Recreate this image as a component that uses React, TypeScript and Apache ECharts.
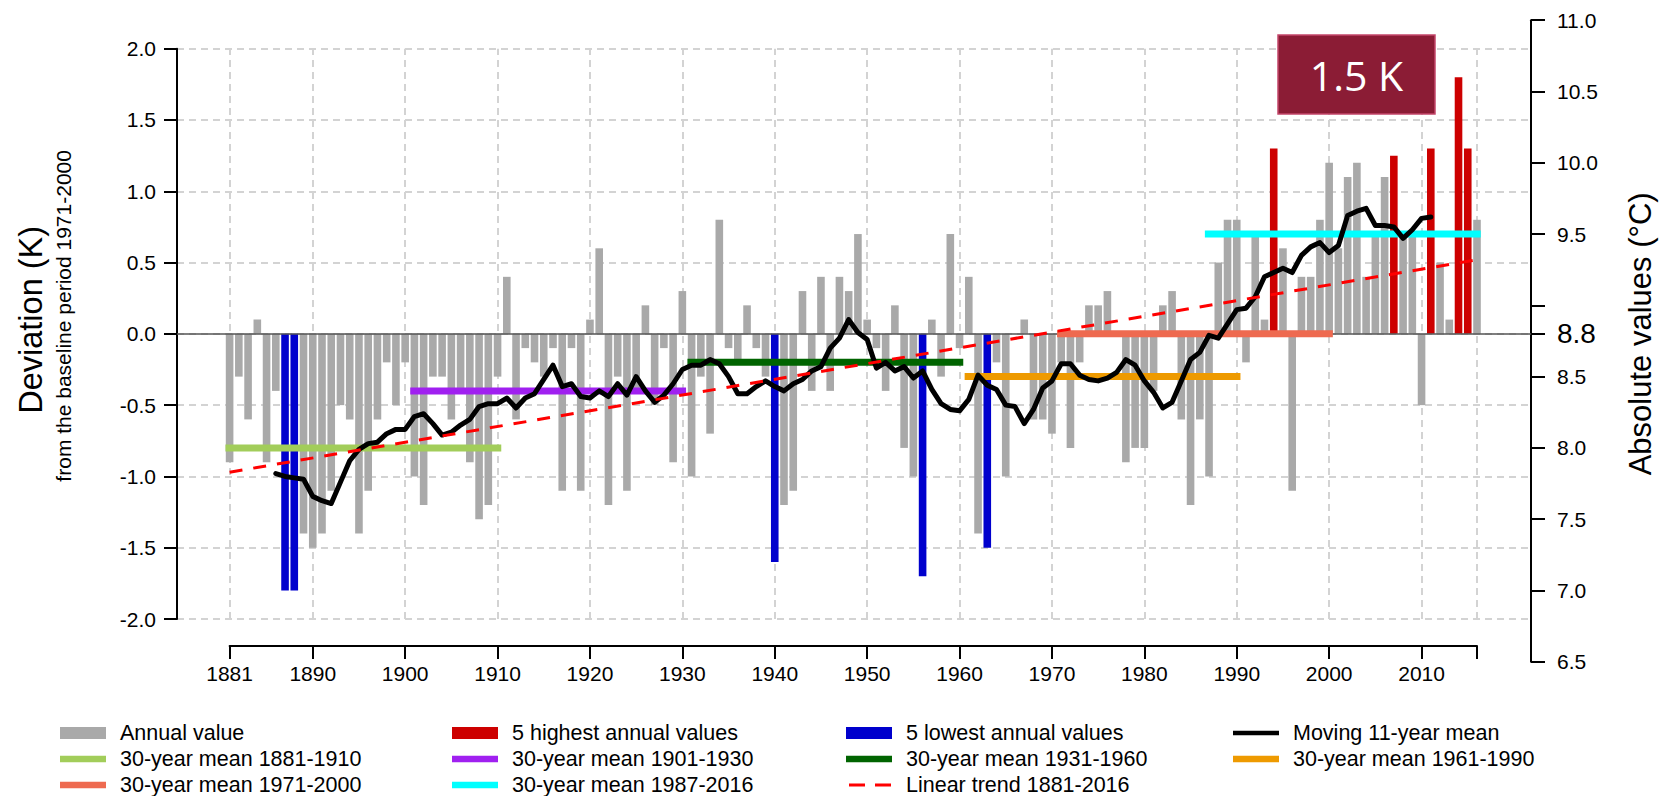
import React, { useEffect, useRef } from 'react';
import * as echarts from 'echarts';

// ---------------- data ----------------
const firstYear = 1881;
const annualValues = [
  -0.9, -0.3, -0.6, 0.1, -0.9, -0.4, -1.8, -1.8, -1.4, -1.5,
  -1.4, -1.1, -0.5, -0.6, -1.4, -1.1, -0.6, -0.2, -0.5, -0.2,
  -1.0, -1.2, -0.3, -0.3, -0.6, -0.4, -0.9, -1.3, -1.2, -0.3,
  0.4, -0.6, -0.1, -0.2, -0.3, -0.1, -1.1, -0.1, -1.1, 0.1,
  0.6, -1.2, -0.3, -1.1, -0.4, 0.2, -0.5, -0.1, -0.9, 0.3,
  -1.0, -0.3, -0.7, 0.8, -0.1, -0.2, 0.2, -0.1, -0.3, -1.6,
  -1.2, -1.1, 0.3, -0.4, 0.4, -0.4, 0.4, 0.3, 0.7, 0.1,
  -0.1, -0.4, 0.2, -0.8, -1.0, -1.7, 0.1, -0.3, 0.7, -0.1,
  0.4, -1.4, -1.5, -0.2, -1.0, 0.0, 0.1, -0.6, -0.6, -0.7,
  -0.2, -0.8, -0.2, 0.2, 0.2, 0.3, 0.0, -0.9, -0.8, -0.8,
  -0.4, 0.2, 0.3, -0.6, -1.2, -0.6, -1.0, 0.5, 0.8, 0.8,
  -0.2, 0.7, 0.1, 1.3, 0.6, -1.1, 0.4, 0.4, 0.8, 1.2,
  0.6, 1.1, 1.2, 0.4, 0.7, 1.1, 1.25, 0.7, 0.7, -0.5,
  1.3, 0.5, 0.1, 1.8, 1.3, 0.8,
];
const highestYears = [1994, 2007, 2011, 2014, 2015];
const lowestYears = [1887, 1888, 1940, 1956, 1963];

const movingMeanFirstYear = 1886;
const movingMean = [
  -0.98, -1.0, -1.01, -1.02, -1.14, -1.17, -1.19, -1.04, -0.89, -0.81,
  -0.77, -0.76, -0.7, -0.67, -0.67, -0.58, -0.56, -0.63, -0.71, -0.69,
  -0.64, -0.6, -0.51, -0.49, -0.49, -0.45, -0.52, -0.45, -0.42, -0.32,
  -0.22, -0.37, -0.35, -0.44, -0.45, -0.4, -0.44, -0.35, -0.43, -0.3,
  -0.4, -0.48, -0.43, -0.35, -0.25, -0.22, -0.22, -0.18, -0.21, -0.3,
  -0.42, -0.42, -0.37, -0.33, -0.37, -0.4, -0.35, -0.32, -0.26, -0.23,
  -0.1, -0.03, 0.1, 0.01, -0.04, -0.24, -0.2, -0.26, -0.23, -0.31,
  -0.26, -0.39, -0.49, -0.53, -0.54, -0.46, -0.29, -0.36, -0.39, -0.5,
  -0.51, -0.63, -0.53, -0.38, -0.33, -0.21, -0.21, -0.29, -0.32, -0.33,
  -0.31, -0.27, -0.18, -0.22, -0.33, -0.41, -0.52, -0.48, -0.33, -0.18,
  -0.13, -0.01, -0.03, 0.07, 0.17, 0.18, 0.26, 0.4, 0.43, 0.46,
  0.43, 0.55, 0.61, 0.64, 0.57, 0.62, 0.83, 0.86, 0.88, 0.76,
  0.76, 0.75, 0.67, 0.73, 0.81, 0.82,
];

const trendYears = [1881, 2016];
const trendValues = [-0.97, 0.52];

const periodLabels = ['1881-1910', '1901-1930', '1931-1960', '1961-1990', '1971-2000', '1987-2016'];
const periodStarts = [1881, 1901, 1931, 1961, 1971, 1987];
const periodEnds = [1910, 1930, 1960, 1990, 2000, 2016];
const periodMeans = [-0.8, -0.4, -0.2, -0.3, 0.0, 0.7];

const xTickYears = [1881, 1890, 1900, 1910, 1920, 1930, 1940, 1950, 1960, 1970, 1980, 1990, 2000, 2010, 2016];
const xLabelYears = [1881, 1890, 1900, 1910, 1920, 1930, 1940, 1950, 1960, 1970, 1980, 1990, 2000, 2010];
const rightTickValues = [6.5, 7.0, 7.5, 8.0, 8.5, 8.8, 9.0, 9.5, 10.0, 10.5, 11.0];
const rightLabelValues = [6.5, 7.0, 7.5, 8.0, 8.5, 8.8, 9.5, 10.0, 10.5, 11.0];
const baselineAbsolute = 8.8;
const warmingLabel = '1.5 K';

// ---------------- styles / layout ----------------
const FONT = '"Liberation Sans", Arial, Helvetica, sans-serif';
const GREY = '#a9a9a9';
const RED = '#cd0000';
const BLUE = '#0000cd';
const periodColors = ['#a2cd5a', '#a020f0', '#006400', '#ee9a00', '#ee6a50', '#00ffff'];
const GRID_COLOR = '#d3d3d3';

const W = 1659;
const H = 796;
const AX_LEFT = 177;
const AX_RIGHT = 1531;
const PLOT_TOP = 48.7;
const PLOT_BOTTOM = 619;
const YEAR0_X = 229.6;
const PX_PER_YEAR = 9.24;
const X_AXIS_Y = 646;
const DEV_MIN = -2;
const DEV_MAX = 2;
const ABS_MIN = 6.5;
const ABS_MAX = 11.0;

const pxPerK = (PLOT_BOTTOM - PLOT_TOP) / (DEV_MAX - DEV_MIN);
const zeroY = PLOT_BOTTOM - (0 - DEV_MIN) * pxPerK;
const rightTop = zeroY - (ABS_MAX - baselineAbsolute) * pxPerK;
const rightBottom = zeroY + (baselineAbsolute - ABS_MIN) * pxPerK;
const xMin = firstYear - (YEAR0_X - AX_LEFT) / PX_PER_YEAR;
const xMax = xMin + (AX_RIGHT - AX_LEFT) / PX_PER_YEAR;
const lastYear = firstYear + annualValues.length - 1;
const xEndPx = YEAR0_X + (lastYear - firstYear) * PX_PER_YEAR;

const years = annualValues.map((_, i) => firstYear + i);
const highSet = new Set(highestYears);
const lowSet = new Set(lowestYears);

const greyData = years.filter((y) => !highSet.has(y) && !lowSet.has(y)).map((y) => [y, annualValues[y - firstYear]]);
const redData = highestYears.map((y) => [y, annualValues[y - firstYear]]);
const blueData = lowestYears.map((y) => [y, annualValues[y - firstYear]]);
const maData = movingMean.map((v, i) => [movingMeanFirstYear + i, v]);
const trendData = trendYears.map((y, i) => [y, trendValues[i]]);

const BAR_W = 7.6;

const barBase = {
  type: 'bar',
  xAxisIndex: 0,
  yAxisIndex: 0,
  barWidth: BAR_W,
  barGap: '-100%',
  silent: true,
  z: 2,
};

const periodSeries = periodStarts.map((s, i) => ({
  name: `30-year mean ${periodLabels[i]}`,
  type: 'line',
  xAxisIndex: 0,
  yAxisIndex: 0,
  data: [
    [s - 0.45, periodMeans[i]],
    [periodEnds[i] + 0.4, periodMeans[i]],
  ],
  symbol: 'none',
  silent: true,
  lineStyle: { color: periodColors[i], width: 7, cap: 'butt' },
  z: 5,
}));

// legend drawn with graphic elements (R-style 4-column legend)
type Entry = { label: string; kind: 'box' | 'line' | 'dash'; color: string; width?: number };
const legendEntries: Entry[] = [
  { label: 'Annual value', kind: 'box', color: GREY },
  { label: '5 highest annual values', kind: 'box', color: RED },
  { label: '5 lowest annual values', kind: 'box', color: BLUE },
  { label: 'Moving 11-year mean', kind: 'line', color: '#000000', width: 4.5 },
  ...periodLabels.map((p, i) => ({ label: `30-year mean ${p}`, kind: 'line' as const, color: periodColors[i], width: 6.5 })),
  { label: 'Linear trend 1881-2016', kind: 'dash', color: '#ff0000', width: 3 },
];
const LEG_COL_X = [60, 452, 846, 1233];
const LEG_ROW_Y = [733, 759, 785];
const SW_W = 46;

const legendGraphics: any[] = [];
legendEntries.forEach((e, i) => {
  const cx = LEG_COL_X[i % 4];
  const cy = LEG_ROW_Y[Math.floor(i / 4)];
  if (e.kind === 'box') {
    legendGraphics.push({ type: 'rect', shape: { x: cx, y: cy - 6, width: SW_W, height: 12 }, style: { fill: e.color }, z: 10, silent: true });
  } else if (e.kind === 'line') {
    legendGraphics.push({ type: 'line', shape: { x1: cx, y1: cy, x2: cx + SW_W, y2: cy }, style: { stroke: e.color, lineWidth: e.width }, z: 10, silent: true });
  } else {
    legendGraphics.push({ type: 'line', shape: { x1: cx + 3, y1: cy, x2: cx + 45, y2: cy }, style: { stroke: e.color, lineWidth: e.width, lineDash: [16, 10] }, z: 10, silent: true });
  }
  legendGraphics.push({
    type: 'text',
    x: cx + 60,
    y: cy,
    z: 10,
    silent: true,
    style: {
      text: e.label,
      fontSize: 21.5,
      fontFamily: FONT,
      fill: '#000000',
      align: 'left',
      verticalAlign: 'middle',
      textAlign: 'left',
      textVerticalAlign: 'middle',
    },
  });
});

const textStyle = (text: string, size: number, color = '#000000', family = FONT) => ({
  text,
  fontSize: size,
  fontFamily: family,
  fill: color,
  align: 'center',
  verticalAlign: 'middle',
  textAlign: 'center',
  textVerticalAlign: 'middle',
});

const option: any = {
  animation: false,
  backgroundColor: '#ffffff',
  textStyle: { fontFamily: FONT },
  grid: [
    { left: AX_LEFT, right: W - AX_RIGHT, top: PLOT_TOP, bottom: H - PLOT_BOTTOM, containLabel: false, outerBoundsMode: 'none' },
    { left: YEAR0_X, right: W - xEndPx, top: X_AXIS_Y - 1, height: 1, containLabel: false, outerBoundsMode: 'none' },
    { left: AX_RIGHT - 10, right: W - AX_RIGHT, top: rightTop, bottom: H - rightBottom, containLabel: false, outerBoundsMode: 'none' },
  ],
  xAxis: [
    { type: 'value', gridIndex: 0, min: xMin, max: xMax, show: false },
    {
      type: 'value',
      gridIndex: 1,
      min: firstYear,
      max: lastYear,
      position: 'bottom',
      axisLine: { show: true, onZero: false, lineStyle: { color: '#000000', width: 2 } },
      axisTick: { show: true, length: 13, customValues: xTickYears, lineStyle: { color: '#000000', width: 2 } },
      axisLabel: { show: true, customValues: xLabelYears, margin: 17, fontSize: 21, color: '#000000', fontFamily: FONT, formatter: (v: number) => String(v) },
      splitLine: { show: false },
    },
    { type: 'value', gridIndex: 2, min: 0, max: 1, show: false },
  ],
  yAxis: [
    {
      type: 'value',
      gridIndex: 0,
      min: DEV_MIN,
      max: DEV_MAX,
      interval: 0.5,
      position: 'left',
      axisLine: { show: true, onZero: false, lineStyle: { color: '#000000', width: 2 } },
      axisTick: { show: true, length: 13, lineStyle: { color: '#000000', width: 2 } },
      axisLabel: { margin: 21, fontSize: 21, color: '#000000', fontFamily: FONT, formatter: (v: number) => v.toFixed(1) },
      splitLine: { show: true, lineStyle: { color: GRID_COLOR, width: 2, type: [7, 5] } },
    },
    {
      type: 'value',
      gridIndex: 2,
      min: ABS_MIN,
      max: ABS_MAX,
      interval: 0.5,
      position: 'right',
      axisLine: { show: true, onZero: false, lineStyle: { color: '#000000', width: 2 } },
      axisTick: { show: true, length: 14, customValues: rightTickValues, lineStyle: { color: '#000000', width: 2 } },
      axisLabel: {
        customValues: rightLabelValues,
        margin: 26,
        fontSize: 21,
        color: '#000000',
        fontFamily: FONT,
        formatter: (v: number) => (Math.abs(v - baselineAbsolute) < 1e-6 ? `{big|${v.toFixed(1)}}` : v.toFixed(1)),
        rich: { big: { fontSize: 28, color: '#000000', fontFamily: FONT } },
      },
      splitLine: { show: false },
    },
    { type: 'value', gridIndex: 1, min: 0, max: 1, show: false },
  ],
  series: [
    {
      name: 'grid',
      type: 'line',
      xAxisIndex: 0,
      yAxisIndex: 0,
      data: [],
      silent: true,
      z: 1,
      markLine: {
        silent: true,
        z: 1,
        symbol: ['none', 'none'],
        label: { show: false },
        lineStyle: { color: GRID_COLOR, width: 2, type: [7, 5] },
        emphasis: { disabled: true },
        animation: false,
        data: xTickYears.map((y) => ({ xAxis: y })),
      },
    },
    { ...barBase, name: 'Annual value', data: greyData, itemStyle: { color: GREY } },
    { ...barBase, name: '5 highest annual values', data: redData, itemStyle: { color: RED } },
    { ...barBase, name: '5 lowest annual values', data: blueData, itemStyle: { color: BLUE } },
    {
      name: 'zero',
      type: 'line',
      xAxisIndex: 0,
      yAxisIndex: 0,
      data: [],
      silent: true,
      z: 4,
      markLine: {
        silent: true,
        z: 4,
        symbol: ['none', 'none'],
        label: { show: false },
        lineStyle: { color: '#555555', width: 1.5, type: 'solid' },
        emphasis: { disabled: true },
        animation: false,
        data: [{ yAxis: 0 }],
      },
    },
    ...periodSeries,
    {
      name: 'Moving 11-year mean',
      type: 'line',
      xAxisIndex: 0,
      yAxisIndex: 0,
      data: maData,
      symbol: 'none',
      silent: true,
      lineStyle: { color: '#000000', width: 5, join: 'round', cap: 'round' },
      z: 6,
    },
    {
      name: 'Linear trend 1881-2016',
      type: 'line',
      xAxisIndex: 0,
      yAxisIndex: 0,
      data: trendData,
      symbol: 'none',
      silent: true,
      lineStyle: { color: '#ff0000', width: 3, type: [13, 11] },
      z: 7,
    },
  ],
  graphic: [
    {
      type: 'rect',
      shape: { x: 1278, y: 35, width: 157, height: 79 },
      style: { fill: '#8b1c35', stroke: '#c4466a', lineWidth: 1.5 },
      z: 10,
      silent: true,
    },
    { type: 'text', x: 1356.5, y: 75, z: 11, silent: true, style: textStyle(warmingLabel, 41, '#ffffff', '"Open Sans", "Liberation Sans", sans-serif') },
    { type: 'text', x: 31, y: zeroY - 14, rotation: Math.PI / 2, z: 10, silent: true, style: textStyle('Deviation (K)', 32.5) },
    { type: 'text', x: 63, y: zeroY - 18, rotation: Math.PI / 2, z: 10, silent: true, style: textStyle('from the baseline period 1971-2000', 21) },
    { type: 'text', x: 1640, y: zeroY, rotation: Math.PI / 2, z: 10, silent: true, style: textStyle('Absolute values (°C)', 31) },
    ...legendGraphics,
  ],
};

export default function App() {
  const ref = useRef<HTMLDivElement>(null);
  useEffect(() => {
    if (!ref.current) return;
    const chart = echarts.init(ref.current, null, { renderer: 'svg' });
    chart.setOption(option);
    return () => {
      chart.dispose();
    };
  }, []);
  return (
    <div
      ref={ref}
      style={{ position: 'fixed', left: 0, top: 0, width: W, height: H, background: '#ffffff' }}
    />
  );
}
